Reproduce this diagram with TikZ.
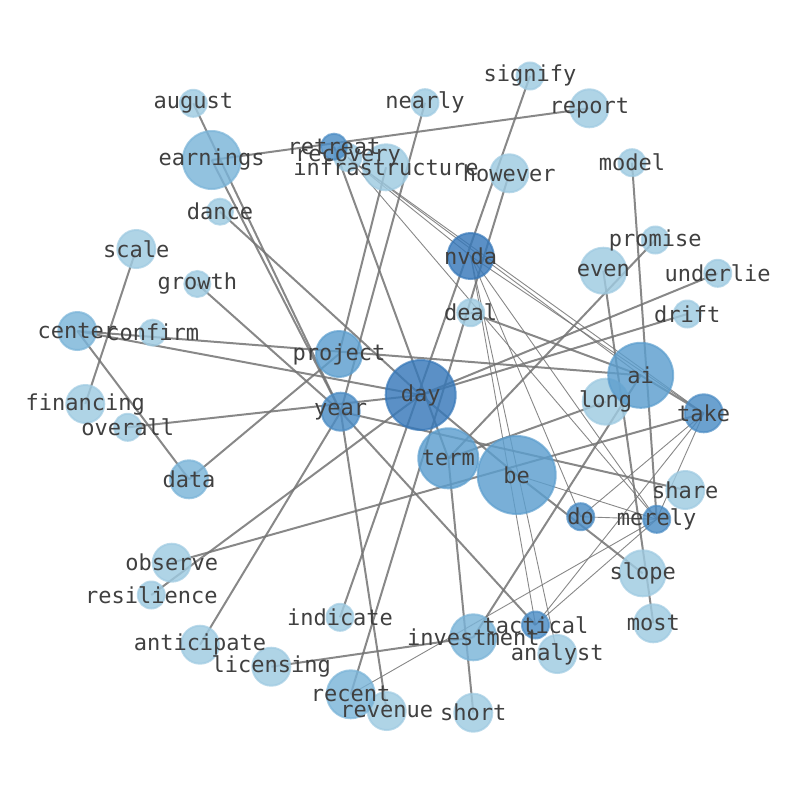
\documentclass[tikz,border=0pt]{standalone}
\usepackage{fontspec}
\setmonofont{DejaVu Sans Mono}
\definecolor{clight}{RGB}{158,202,225}
\definecolor{cmid}{RGB}{122,180,216}
\definecolor{cmid2}{RGB}{92,158,206}
\definecolor{cdark}{RGB}{75,140,196}
\definecolor{cdark2}{RGB}{55,120,185}
\definecolor{edgegray}{RGB}{115,115,115}
\definecolor{labelgray}{RGB}{64,64,64}
\begin{document}
\begin{tikzpicture}[x=1pt,y=-1pt,
  thickedge/.style={draw=edgegray,line width=2pt,opacity=0.85},
  thinedge/.style={draw=edgegray,line width=0.9pt,opacity=0.85},
  nd/.style={circle,inner sep=0pt,line width=2pt,fill opacity=0.82,draw opacity=0.7},
  nlight/.style={nd,fill=clight,draw=clight},
  nmid/.style={nd,fill=cmid,draw=cmid},
  nmidb/.style={nd,fill=cmid2,draw=cmid2},
  ndark/.style={nd,fill=cdark,draw=cdark},
  ndarkb/.style={nd,fill=cdark2,draw=cdark2},
  lbl/.style={text=labelgray,font=\fontsize{22}{24}\selectfont\ttfamily,inner sep=0pt}]
\useasboundingbox (0,0) rectangle (794,790);
% positions
\coordinate (august) at (193.3,103.3);
\coordinate (earnings) at (211.7,160);
\coordinate (dance) at (220,211.7);
\coordinate (scale) at (136.3,249);
\coordinate (growth) at (197.3,284);
\coordinate (center) at (77.3,331);
\coordinate (confirm) at (152.7,332.7);
\coordinate (financing) at (85.3,404);
\coordinate (overall) at (127.7,427.3);
\coordinate (data) at (189,479.3);
\coordinate (observe) at (171.7,562.7);
\coordinate (resilience) at (151.3,595);
\coordinate (anticipate) at (200,644.7);
\coordinate (licensing) at (271.3,666.7);
\coordinate (indicate) at (340,617.3);
\coordinate (recent) at (350.7,694.3);
\coordinate (revenue) at (386.7,711);
\coordinate (short) at (473.3,712.7);
\coordinate (investment) at (473.3,637.3);
\coordinate (tactical) at (535.5,625);
\coordinate (analyst) at (557.3,654);
\coordinate (slope) at (642.7,573.3);
\coordinate (most) at (653.3,623.3);
\coordinate (do) at (580.7,516.7);
\coordinate (merely) at (656.7,519.3);
\coordinate (share) at (685.3,490);
\coordinate (take) at (703.7,413.3);
\coordinate (ai) at (640.7,375.3);
\coordinate (long) at (605.7,401.7);
\coordinate (drift) at (687.3,314);
\coordinate (underlie) at (717.7,273.3);
\coordinate (promise) at (655.3,240);
\coordinate (even) at (603.3,270.7);
\coordinate (model) at (632,162.7);
\coordinate (report) at (589.3,108.3);
\coordinate (signify) at (530,76);
\coordinate (however) at (509.3,173.3);
\coordinate (nearly) at (425,102.7);
\coordinate (retreat) at (334,146.7);
\coordinate (recovery) at (348,157.5);
\coordinate (infrastructure) at (386,167.3);
\coordinate (nvda) at (470.7,256);
\coordinate (deal) at (470.7,312.7);
\coordinate (project) at (339,354);
\coordinate (year) at (340.7,411.7);
\coordinate (day) at (420.7,395);
\coordinate (term) at (448.3,458.3);
\coordinate (be) at (516.7,475);
% thick edges
\foreach \a/\b in {august/year,earnings/year,earnings/report,dance/day,growth/year,
  scale/financing,center/data,center/ai,center/day,overall/day,data/project,
  observe/take,resilience/day,anticipate/year,licensing/investment,
  infrastructure/project,year/revenue,nearly/year,year/tactical,retreat/term,
  signify/indicate,however/recent,underlie/day,drift/day,promise/term,deal/ai,
  ai/take,term/long,be/slope,day/be,ai/investment,even/most,model/merely,
  term/short,year/share}
  \draw[thickedge] (\a) -- (\b);
% thin edges
\foreach \a/\b in {recovery/nvda,recovery/take,recovery/ai,recovery/merely,
  nvda/take,nvda/merely,nvda/do,nvda/tactical,nvda/analyst,take/do,take/merely,
  take/tactical,do/merely,be/merely,recent/merely,merely/tactical}
  \draw[thinedge] (\a) -- (\b);
% node circles
\foreach \n/\r in {august/13.5,dance/13,scale/19,growth/13,confirm/13,financing/19,
  overall/13.5,observe/19,resilience/13.5,anticipate/19,licensing/19,indicate/13.5,
  revenue/19,short/19,analyst/19,slope/23,most/19,share/19,long/23,drift/13.5,
  underlie/13.5,promise/13.5,even/23,model/13.5,report/19,signify/13.5,however/19,
  nearly/13.5,recovery/13.5,infrastructure/23,deal/13.5}
  \node[nlight,minimum size=2*\r] (\n-c) at (\n) {};
\foreach \n/\r in {earnings/29,center/19,data/19,recent/24,investment/23}
  \node[nmid,minimum size=2*\r] (\n-c) at (\n) {};
\foreach \n/\r in {be/39,ai/32.5,term/30,project/23}
  \node[nmidb,minimum size=2*\r] (\n-c) at (\n) {};
\foreach \n/\r in {year/19,take/19,merely/13.5,do/13.5,tactical/13.5,retreat/13}
  \node[ndark,minimum size=2*\r] (\n-c) at (\n) {};
\foreach \n/\r in {day/35,nvda/23}
  \node[ndarkb,minimum size=2*\r] (\n-c) at (\n) {};
% labels
\foreach \n in {august,earnings,dance,scale,growth,center,confirm,financing,overall,
  data,observe,resilience,anticipate,licensing,indicate,recent,revenue,short,
  investment,tactical,analyst,slope,most,do,merely,share,take,ai,long,drift,
  underlie,promise,even,model,report,signify,however,nearly,retreat,recovery,
  infrastructure,nvda,deal,project,year,day,term,be}
  \node[lbl] (\n-l) at (\n) {\n};
\end{tikzpicture}
\end{document}
